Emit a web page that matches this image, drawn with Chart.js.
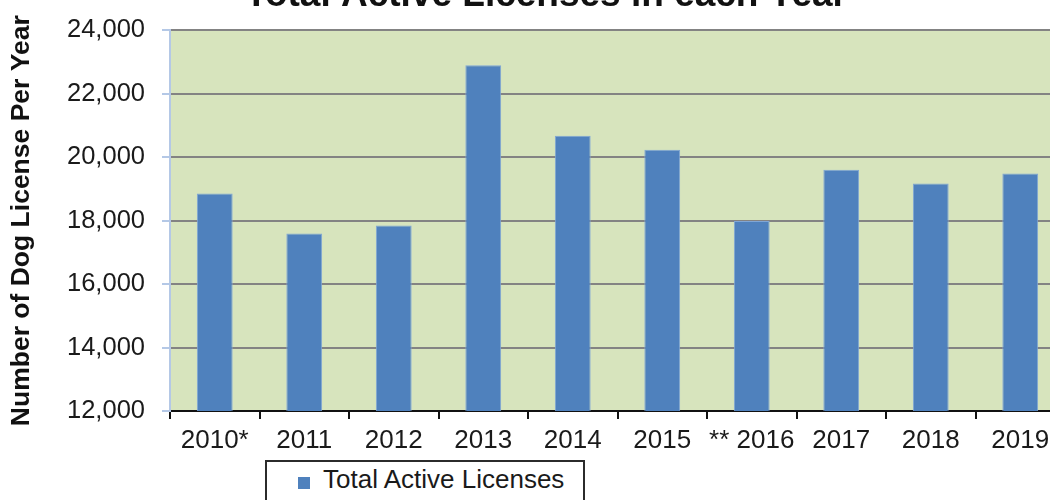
<!DOCTYPE html>
<html>
<head>
<meta charset="utf-8">
<script src="https://cdn.jsdelivr.net/npm/chart.js@4.4.1/dist/chart.umd.min.js"></script>
<style>
  html, body { margin: 0; padding: 0; background: #fff; overflow: hidden; }
  body { width: 1050px; height: 500px; position: relative; }
  #wrap { position: absolute; left: 0; top: -40px; width: 1080px; height: 540px; }
  #legend {
    position: absolute; left: 265px; top: 460px; width: 316px; height: 60px;
    border: 2px solid #2b2b2b; background: #fff;
    font-family: 'Liberation Sans', Arial, sans-serif; font-size: 26px; color: #1a1a1a;
  }
  #legend .box { position: absolute; left: 31px; top: 15px; width: 12px; height: 12px; background: #4f81bd; }
  #legend .txt { position: absolute; left: 56px; top: 2px; line-height: 30px; white-space: nowrap; }
</style>
</head>
<body>
<div id="wrap"><canvas id="chart" width="1080" height="540"></canvas></div>
<div id="legend"><span class="box"></span><span class="txt" id="legendText"></span></div>
<script>
'use strict';

const YEARS = ['2010*', '2011', '2012', '2013', '2014', '2015', '** 2016', '2017', '2018', '2019'];
const LICENSES = [18860, 17600, 17850, 22900, 20680, 20240, 17990, 19610, 19170, 19490];
const SERIES_LABEL = 'Total Active Licenses';
const TITLE = 'Total Active Licenses in each Year';
const Y_TITLE = 'Number of Dog License Per Year';
const Y_MIN = 12000, Y_MAX = 24000, Y_STEP = 2000;

const FONT = "'Liberation Sans', Arial, sans-serif";
const plotBg = '#d7e4bd';

// green plot area behind grid and bars
const plotBackground = {
    id: 'plotBackground',
    beforeDraw(chart) {
        const a = chart.chartArea;
        const c = chart.ctx;
        c.save();
        c.fillStyle = plotBg;
        c.fillRect(a.left, a.top, a.right - a.left, a.bottom - a.top);
        c.restore();
    }
};

document.getElementById('legendText').textContent = SERIES_LABEL;

new Chart(document.getElementById('chart'), {
    type: 'bar',
    data: {
        labels: YEARS,
        datasets: [{
            label: SERIES_LABEL,
            data: LICENSES,
            backgroundColor: '#4f81bd',
            borderColor: '#7fa6d6',
            borderWidth: 1,
            barPercentage: 0.8,
            categoryPercentage: 0.5,
        }],
    },
    options: {
        responsive: false, animation: false,
        layout: { padding: { left: 27, right: 15, top: 0, bottom: 0 } },
        plugins: {
            legend: { display: false },
            tooltip: { enabled: false },
            title: {
                display: true, text: TITLE, color: '#111',
                font: { family: FONT, size: 37, weight: 'bold' },
                padding: { top: 14, bottom: 12 },
            },
        },
        scales: {
            x: {
                grid: { drawOnChartArea: false, drawTicks: true, tickLength: 8, color: '#111', lineWidth: 2, offset: true },
                border: { color: '#111', width: 2 },
                ticks: { color: '#1a1a1a', padding: 6, font: { family: FONT, size: 26 }, maxRotation: 0, autoSkip: false },
                afterFit: s => { s.height = 89; },
            },
            y: {
                min: Y_MIN, max: Y_MAX,
                grid: {
                    color: c => c.tick && c.tick.value === Y_MIN ? 'rgba(0,0,0,0)' : '#838383',
                    lineWidth: 2, tickLength: 8, tickColor: '#b4c8e6',
                },
                border: { color: '#b4c8e6', width: 2 },
                ticks: {
                    stepSize: Y_STEP, color: '#1a1a1a', padding: 17,
                    font: { family: FONT, size: 25.5 },
                    callback: v => v.toLocaleString('en-US'),
                },
                title: {
                    display: true, text: Y_TITLE, color: '#111',
                    font: { family: FONT, size: 26.5, weight: 'bold' },
                    padding: { top: -21, bottom: 0 },
                },
                afterFit: s => { s.width = 143; },
            },
        },
    },
    plugins: [plotBackground],
});
</script>
</body>
</html>
